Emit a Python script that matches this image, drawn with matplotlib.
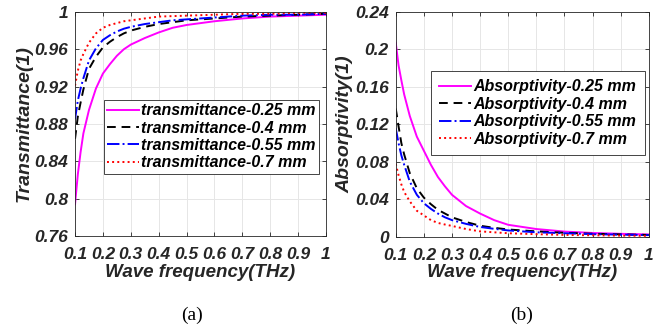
# 透過率と吸収率のグラフ

import matplotlib.pyplot as plt
from matplotlib.ticker import FixedLocator, FixedFormatter

freq = [0.1, 0.11, 0.12, 0.13, 0.15, 0.175, 0.2, 0.225, 0.25, 0.275, 0.3, 0.35, 0.4, 0.45, 0.5, 0.6, 0.7, 0.8, 0.9, 1.0]

trans_025 = [0.794, 0.826, 0.850, 0.870, 0.895, 0.918, 0.934, 0.944, 0.953, 0.960, 0.965, 0.972, 0.978, 0.983, 0.986, 0.990, 0.993, 0.995, 0.996, 0.997]
trans_04 = [0.864, 0.888, 0.903, 0.917, 0.939, 0.952, 0.962, 0.968, 0.973, 0.977, 0.980, 0.984, 0.987, 0.989, 0.991, 0.993, 0.995, 0.996, 0.997, 0.998]
trans_055 = [0.885, 0.905, 0.918, 0.929, 0.948, 0.961, 0.970, 0.975, 0.979, 0.982, 0.984, 0.987, 0.989, 0.991, 0.992, 0.994, 0.996, 0.997, 0.997, 0.998]
trans_07 = [0.921, 0.937, 0.948, 0.955, 0.967, 0.977, 0.983, 0.986, 0.988, 0.990, 0.991, 0.993, 0.995, 0.9955, 0.996, 0.997, 0.998, 0.998, 0.999, 0.999]

abs_025 = [0.207, 0.183, 0.167, 0.152, 0.129, 0.107, 0.092, 0.077, 0.064, 0.054, 0.045, 0.033, 0.025, 0.018, 0.013, 0.0085, 0.0058, 0.0043, 0.0034, 0.0027]
abs_04 = [0.137, 0.118, 0.100, 0.088, 0.068, 0.052, 0.042, 0.035, 0.029, 0.025, 0.021, 0.016, 0.012, 0.0098, 0.008, 0.006, 0.0045, 0.0035, 0.0028, 0.0022]
abs_055 = [0.116, 0.100, 0.087, 0.077, 0.059, 0.045, 0.036, 0.030, 0.025, 0.021, 0.018, 0.014, 0.0107, 0.0087, 0.007, 0.005, 0.004, 0.003, 0.0025, 0.002]
abs_07 = [0.078, 0.066, 0.056, 0.048, 0.038, 0.028, 0.023, 0.018, 0.015, 0.0133, 0.0118, 0.0085, 0.006, 0.005, 0.004, 0.003, 0.0022, 0.0018, 0.0015, 0.0012]

thick = ["0.25 mm", "0.4 mm", "0.55 mm", "0.7 mm"]
colors = ["#FF00FF", "black", "#0000FF", "#FF0000"]
styles = ["-", (0, (4.5, 3)), "-.", ":"]

x_ticks = [0.1, 0.2, 0.3, 0.4, 0.5, 0.6, 0.7, 0.8, 0.9, 1.0]
x_labels = ["0.1", "0.2", "0.3", "0.4", "0.5", "0.6", "0.7", "0.8", "0.9", "1"]
ya_ticks = [0.76, 0.8, 0.84, 0.88, 0.92, 0.96, 1.0]
ya_labels = ["0.76", "0.8", "0.84", "0.88", "0.92", "0.96", "1"]
yb_ticks = [0, 0.04, 0.08, 0.12, 0.16, 0.2, 0.24]
yb_labels = ["0", "0.04", "0.08", "0.12", "0.16", "0.2", "0.24"]

plt.rcParams['font.family'] = ['Liberation Sans', 'DejaVu Sans']
txt_color = "#262626"


def setup(ax, yt, yl, ylim, ylabel):
   ax.set_xlim(0.1, 1.0)
   ax.set_ylim(*ylim)
   ax.xaxis.set_major_locator(FixedLocator(x_ticks))
   ax.xaxis.set_major_formatter(FixedFormatter(x_labels))
   ax.yaxis.set_major_locator(FixedLocator(yt))
   ax.yaxis.set_major_formatter(FixedFormatter(yl))
   for lab in ax.get_xticklabels() + ax.get_yticklabels():
      lab.set_fontsize(12.5)
      lab.set_fontweight("bold")
      lab.set_fontstyle("italic")
      lab.set_color(txt_color)
   ax.tick_params(direction="in", length=3, width=0.6, color="#262626", top=True, right=True)
   ax.tick_params(axis="x", pad=8)
   ax.tick_params(axis="y", pad=5)
   ax.grid(True, color="#e6e6e6", linewidth=0.7)
   ax.set_axisbelow(True)
   for s in ax.spines.values():
      s.set_color("#262626")
      s.set_linewidth(0.6)
   ax.set_xlabel("Wave frequency(THz)", fontsize=13.5, fontweight="bold", fontstyle="italic", color=txt_color, labelpad=1)
   ax.set_ylabel(ylabel, fontsize=14, fontweight="bold", fontstyle="italic", color=txt_color, labelpad=1)


fig = plt.figure(figsize=(6.64, 3.31), dpi=100)
ax1 = fig.add_axes([0.113, 0.287, 0.378, 0.677])
ax2 = fig.add_axes([0.596, 0.284, 0.381, 0.680])

for t, c, s, name in zip([trans_025, trans_04, trans_055, trans_07], colors, styles, thick):
   ax1.plot(freq, t, color=c, linestyle=s, linewidth=1.4, label="transmittance-" + name)
for a, c, s, name in zip([abs_025, abs_04, abs_055, abs_07], colors, styles, thick):
   ax2.plot(freq, a, color=c, linestyle=s, linewidth=1.4, label="Absorptivity-" + name)

setup(ax1, ya_ticks, ya_labels, (0.76, 1.0), "Transmittance(1)")
setup(ax2, yb_ticks, yb_labels, (0, 0.24), "Absorptivity(1)")

leg_font = dict(size=11.5, weight="bold", style="italic")
leg1 = ax1.legend(loc="upper left", bbox_to_anchor=(0.115, 0.607), prop=leg_font, handlelength=2.0,
                  handletextpad=0.15, borderpad=0.2, labelspacing=0.15, fancybox=False, framealpha=1,
                  edgecolor="#262626", borderaxespad=0)
leg2 = ax2.legend(loc="upper left", bbox_to_anchor=(0.138, 0.739), prop=leg_font, handlelength=2.0,
                  handletextpad=0.15, borderpad=0.55, labelspacing=0.15, fancybox=False, framealpha=1,
                  edgecolor="#262626", borderaxespad=0)
for leg in (leg1, leg2):
   leg.get_frame().set_linewidth(0.6)

fig.text(0.289, 0.048, "(a)", fontsize=14, family="Liberation Serif", ha="center", va="center")
fig.text(0.786, 0.048, "(b)", fontsize=14, family="Liberation Serif", ha="center", va="center")

plt.savefig("out.png", dpi=100)
